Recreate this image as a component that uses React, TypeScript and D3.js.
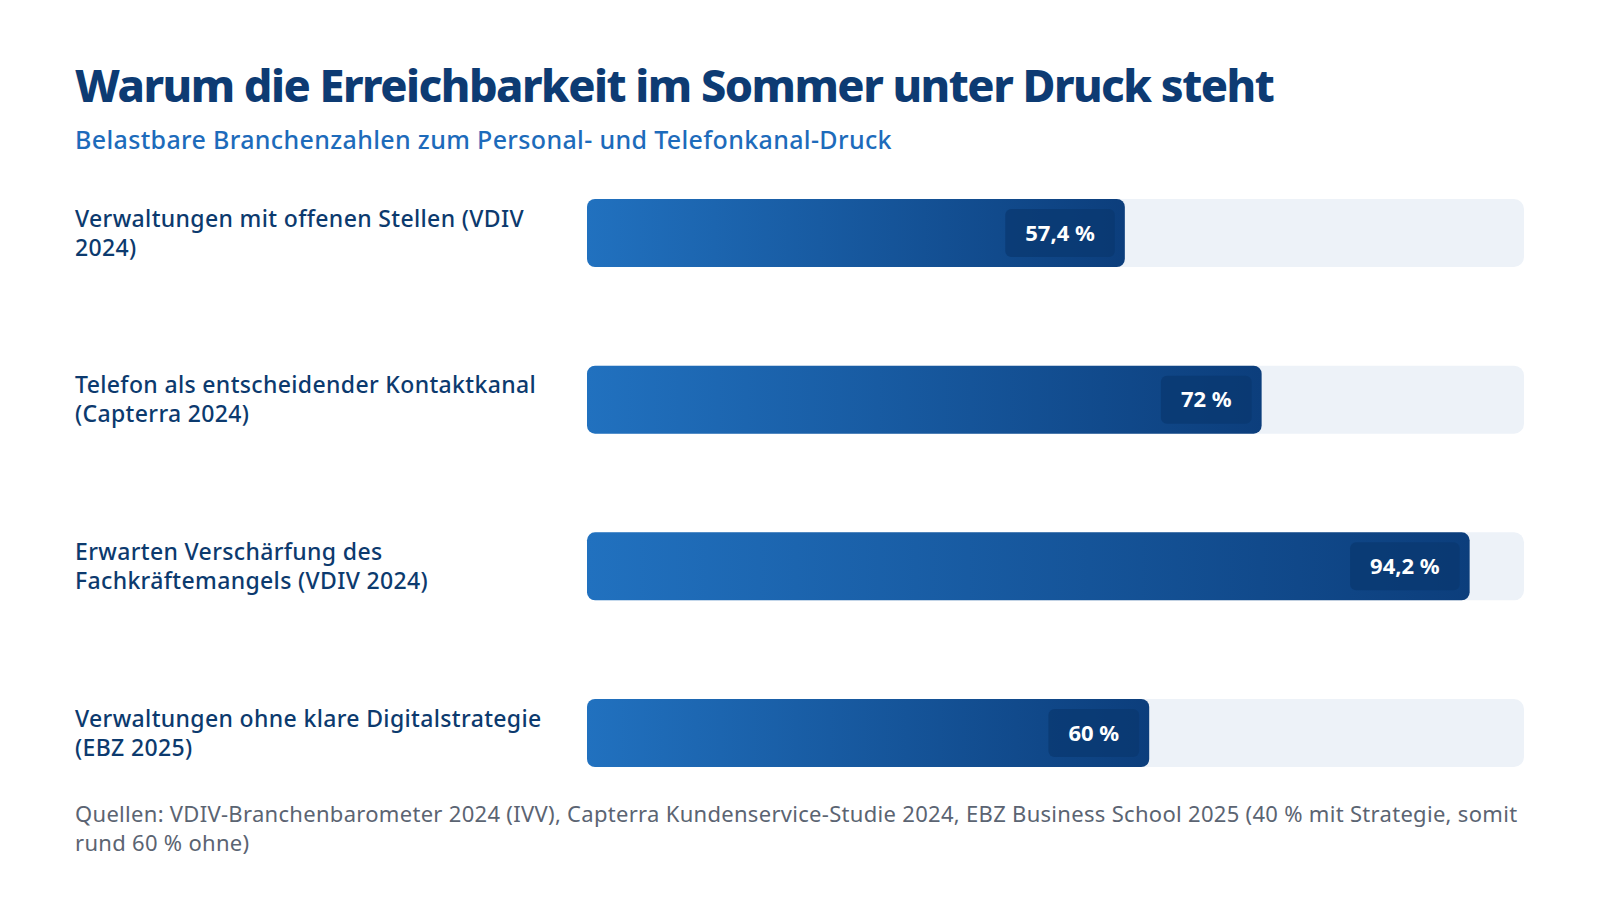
import * as d3 from 'd3'

// Figures quoted in the chart (percent of respondents)
const categories = [
  'Verwaltungen mit offenen Stellen (VDIV\n2024)',
  'Telefon als entscheidender Kontaktkanal\n(Capterra 2024)',
  'Erwarten Verschärfung des\nFachkräftemangels (VDIV 2024)',
  'Verwaltungen ohne klare Digitalstrategie\n(EBZ 2025)',
]
const values = [57.4, 72, 94.2, 60]

const title = 'Warum die Erreichbarkeit im Sommer unter Druck steht'
const subtitle = 'Belastbare Branchenzahlen zum Personal- und Telefonkanal-Druck'
const sources =
  'Quellen: VDIV-Branchenbarometer 2024 (IVV), Capterra Kundenservice-Studie 2024, EBZ Business School 2025 (40 % mit Strategie, somit\nrund 60 % ohne)'

const FONT = '"Noto Sans", "Open Sans", sans-serif'

const fmt = (v: number) => `${String(v).replace('.', ',')} %`

let ctx: CanvasRenderingContext2D | null = null
function textWidth(text: string, font: string) {
  if (!ctx) ctx = document.createElement('canvas').getContext('2d')
  if (!ctx) return text.length * 12
  ctx.font = font
  return ctx.measureText(text).width
}

export default function App() {
  const width = 1600
  const height = 900
  const left = 75
  const track = { x0: 587, x1: 1524 }

  const xScale = d3.scaleLinear().domain([0, 100]).range([track.x0, track.x1])
  const yScale = d3
    .scaleBand<number>()
    .domain(d3.range(values.length))
    .range([199, 767])
    .paddingInner(0.592)
    .paddingOuter(0)
  const bh = yScale.bandwidth()

  const labelFont = `700 22px ${FONT}`

  return (
    <svg
      width={width}
      height={height}
      style={{ position: 'absolute', left: 0, top: 0, background: '#fff' }}
      fontFamily={FONT}
    >
      <defs>
        <linearGradient id="barFill" x1="0" x2="1" y1="0" y2="0">
          <stop offset="0%" stopColor="#2171bf" />
          <stop offset="100%" stopColor="#0c3e7c" />
        </linearGradient>
      </defs>
      <rect width={width} height={height} fill="#fff" />

      <text x={left} y={102} fontSize={45} fontWeight={800} fill="#0d3b73" letterSpacing={-1.5}>
        {title}
      </text>
      <text x={left} y={149} fontSize={25} fontWeight={500} fill="#1d6bbb" letterSpacing={0.35}>
        {subtitle}
      </text>

      {values.map((v, i) => {
        const y = yScale(i)!
        const cy = y + bh / 2
        const lines = categories[i].split('\n')
        const label = fmt(v)
        const boxW = textWidth(label, labelFont) + 40
        const xEnd = xScale(v)
        return (
          <g key={i}>
            <text fontSize={23} fontWeight={500} fill="#0c3a6e" letterSpacing={0.35}>
              {lines.map((ln, j) => (
                <tspan key={j} x={left} y={cy + (j - (lines.length - 1) / 2) * 29} dy="0.35em">
                  {ln}
                </tspan>
              ))}
            </text>
            <rect
              x={track.x0}
              y={y}
              width={track.x1 - track.x0}
              height={bh}
              rx={10}
              fill="#edf2f8"
            />
            <rect
              x={track.x0}
              y={y}
              width={xEnd - track.x0}
              height={bh}
              rx={8}
              fill="url(#barFill)"
            />
            <rect
              x={xEnd - 10 - boxW}
              y={y + 10}
              width={boxW}
              height={bh - 20}
              rx={6}
              fill="#0a3870"
              fillOpacity={0.75}
            />
            <text
              x={xEnd - 10 - boxW / 2}
              y={cy}
              dy="0.35em"
              textAnchor="middle"
              fontSize={22}
              fontWeight={700}
              fill="#fff"
            >
              {label}
            </text>
          </g>
        )
      })}

      <text fontSize={22} fill="#5b6472" letterSpacing={0.3}>
        {sources.split('\n').map((ln, j) => (
          <tspan key={j} x={left} y={822 + j * 29}>
            {ln}
          </tspan>
        ))}
      </text>
    </svg>
  )
}
